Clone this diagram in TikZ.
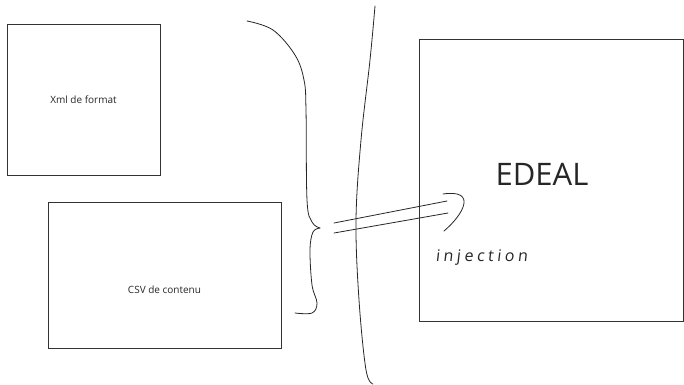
\documentclass[tikz,border=0pt]{standalone}
\usepackage{fontspec}
\setmainfont{Open Sans}
\newfontfamily\handfont[LetterSpace=22,FakeSlant=0.12]{Open Sans}
\usepackage{xcolor}
\usetikzlibrary{calc}

\definecolor{inkgray}{HTML}{333333}
\tikzset{
  box/.style={draw=inkgray,line width=1pt,inner sep=0pt,font=\fontsize{10}{12}\selectfont,text=black!85},
  sketch/.style={line width=0.8pt,black!85,line cap=round,line join=round}
}

\begin{document}
\begin{tikzpicture}[x=1pt,y=-1pt,scale=1.0]
    \useasboundingbox (0,0) rectangle (684,384);
    % source files
    \node[box,minimum width=153pt,minimum height=151pt] (xml) at (83.5,99.5) {Xml de format};
    \node[box,minimum width=233pt,minimum height=146pt] (csv) at (164.5,275) {};
    \node[font=\fontsize{10}{12}\selectfont,text=black!85] (csvtxt) at ($(csv.center)+(0,15)$) {CSV de contenu};
    % target
    \node[box,minimum width=264pt,minimum height=282pt] (edeal) at (551,180) {};
    \node[font=\fontsize{31}{36}\selectfont,text=black!85] (edealtxt) at (542,174) {EDEAL};
    % brace grouping the files
    \coordinate (tip) at (320,228);
    \draw[sketch] plot[smooth,tension=0.6] coordinates {(247,21) (273,30) (295,55) (304,80) (306,110) (307,200) (312,222) (tip)};
    \draw[sketch] plot[smooth,tension=0.6] coordinates {(tip) (313,232) (310,250) (312,285) (317,303) (312,313) (295,313)};
    % separation
    \draw[sketch] plot[smooth,tension=0.6] coordinates {(375,6) (370,60) (361,140) (356,220) (359,300) (366,370) (373,384)};
    % double arrow
    \coordinate (a1) at (334,223);
    \coordinate (a2) at (334,233);
    \coordinate (b1) at (447,201);
    \coordinate (b2) at (448,213);
    \draw[sketch] (a1) -- (b1);
    \draw[sketch] (a2) -- (b2);
    \draw[sketch] (443,194) .. controls (478,189) and (463,215) .. (444,231);
    \node[font=\handfont\fontsize{16}{18}\selectfont,text=black!85,anchor=west] (inj) at (432,258) {injection};
\end{tikzpicture}
\end{document}
